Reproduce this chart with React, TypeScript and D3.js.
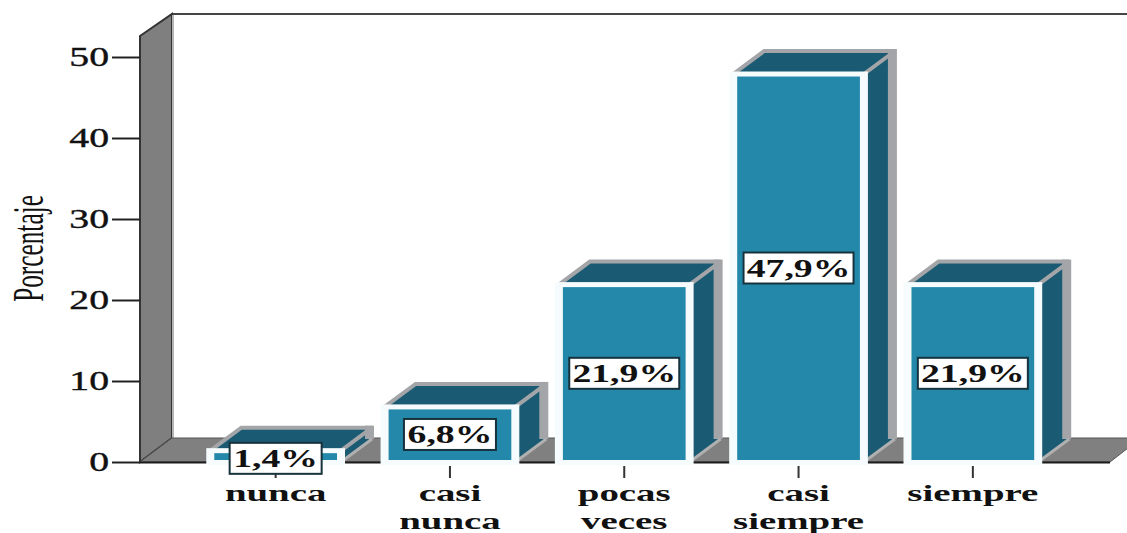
import React, { useEffect, useRef } from 'react';
import * as d3 from 'd3';

const categories = ['nunca', 'casi nunca', 'pocas veces', 'casi siempre', 'siempre'];
const categoryLines = [['nunca'], ['casi', 'nunca'], ['pocas', 'veces'], ['casi', 'siempre'], ['siempre']];
const values = [1.4, 6.8, 21.9, 47.9, 21.9];
const valueLabels = ['1,4%', '6,8%', '21,9%', '47,9%', '21,9%'];
const yTicks = [0, 10, 20, 30, 40, 50];

const w = 1127;
const h = 533;
const depthX = 31;
const depthY = 23;
const stretch = 1.42;
const serif = '"Liberation Serif", serif';

export default function App() {
  const svgRef = useRef<any>();

  useEffect(() => {
    const svg = d3.select(svgRef.current);
    svg.selectAll('*').remove();

    const yScale = d3.scaleLinear().domain([0, 50]).range([462, 57]);
    const xScale = d3
      .scaleBand<string>()
      .domain(categories)
      .range([188.5, 1060])
      .paddingInner(0.25)
      .paddingOuter(0.125);
    const base = yScale(0);
    const poly = (pts: number[][]) => pts.map((p) => p.join(',')).join(' ');

    // walls
    const wallLeft = 140;
    const wallRight = wallLeft + depthX + 1;
    svg
      .append('line')
      .attr('x1', wallRight)
      .attr('x2', w)
      .attr('y1', 14)
      .attr('y2', 14)
      .attr('stroke', '#444')
      .attr('stroke-width', 2);
    svg
      .append('polygon')
      .attr('points', poly([[wallLeft, 36], [wallRight, 14], [wallRight, base - depthY - 1], [wallLeft, base]]))
      .attr('fill', '#7f7f7f')
      .attr('stroke', '#333')
      .attr('stroke-width', 2);
    svg
      .append('line')
      .attr('x1', wallRight + 1)
      .attr('x2', wallRight + 1)
      .attr('y1', 15)
      .attr('y2', base - depthY)
      .attr('stroke', '#b5b5b5')
      .attr('stroke-width', 2);
    svg
      .append('polygon')
      .attr('points', poly([[wallLeft, base], [wallRight, base - depthY - 1], [1141, base - depthY - 1], [1110, base]]))
      .attr('fill', '#808080')
      .attr('stroke', '#555')
      .attr('stroke-width', 1);
    svg
      .append('line')
      .attr('x1', wallLeft)
      .attr('x2', 1110)
      .attr('y1', base + 0.5)
      .attr('y2', base + 0.5)
      .attr('stroke', '#1c1c1c')
      .attr('stroke-width', 2);

    // y axis
    const yAxis = svg
      .append('g')
      .attr('transform', `translate(${wallLeft},0)`)
      .call(d3.axisLeft(yScale).tickValues(yTicks).tickSize(28).tickFormat((d: any) => String(d)));
    yAxis.select('.domain').remove();
    yAxis.selectAll('line').attr('stroke', '#222').attr('stroke-width', 2);
    yAxis
      .selectAll('text')
      .attr('text-anchor', 'end')
      .attr('font-family', serif)
      .attr('font-size', 28)
      .attr('stroke', '#111')
      .attr('stroke-width', 0.4)
      .attr('fill', '#111')
      .attr('x', 0)
      .attr('dy', '0.32em')
      .attr('transform', `translate(-31,0) scale(${stretch},1)`);

    // y title, squeezed like the original
    svg
      .append('text')
      .attr('transform', 'translate(43,248.5) rotate(-90) scale(0.575,1)')
      .attr('text-anchor', 'middle')
      .attr('font-family', serif)
      .attr('font-size', 44)
      .attr('fill', '#111')
      .text('Porcentaje');

    // x axis ticks
    const xAxis = svg
      .append('g')
      .attr('transform', `translate(0,${base + 4})`)
      .call(d3.axisBottom(xScale).tickSize(12).tickFormat(() => ''));
    xAxis.select('.domain').remove();
    xAxis.selectAll('line').attr('stroke', '#333').attr('stroke-width', 2);

    // category labels, one text per category with a tspan per line
    categories.forEach((cat, i) => {
      const cx = xScale(cat)! + xScale.bandwidth() / 2;
      const label = svg
        .append('text')
        .attr('transform', `translate(${cx},501) scale(1.62,1)`)
        .attr('text-anchor', 'middle')
        .attr('font-family', serif)
        .attr('font-weight', 'bold')
        .attr('font-size', 24)
        .attr('fill', '#111');
      categoryLines[i].forEach((line, j) => {
        label.append('tspan').attr('x', 0).attr('y', j * 27.6).text(line);
      });
    });

    // bars
    const bars = svg.selectAll('g.bar').data(values).join('g').attr('class', 'bar');
    bars.each(function (d, i) {
      const g = d3.select(this);
      const x0 = xScale(categories[i])!;
      const x1 = x0 + xScale.bandwidth();
      const top = yScale(d);
      const dk = '#1a5b73';
      const edge = '#a3a5a8';

      g.append('polygon')
        .attr('points', poly([[x1, top], [x1 + depthX, top - depthY], [x1 + depthX, base - depthY], [x1, base]]))
        .attr('fill', dk);
      g.append('polygon')
        .attr('points', poly([[x0, top], [x0 + depthX, top - depthY], [x1 + depthX, top - depthY], [x1, top]]))
        .attr('fill', dk);
      g.append('polyline')
        .attr('points', poly([[x0, top], [x0 + depthX, top - depthY], [x1 + depthX, top - depthY]]))
        .attr('fill', 'none')
        .attr('stroke', edge)
        .attr('stroke-width', 4);
      // right edge of the side is a wider band
      g.append('rect')
        .attr('x', x1 + depthX - 7)
        .attr('y', top - depthY - 2)
        .attr('width', 9)
        .attr('height', base - top + 2)
        .attr('fill', edge);
      g.append('line')
        .attr('x1', x1)
        .attr('y1', top)
        .attr('x2', x1 + depthX)
        .attr('y2', top - depthY)
        .attr('stroke', edge)
        .attr('stroke-width', 4);
      g.append('line')
        .attr('x1', x1)
        .attr('y1', base)
        .attr('x2', x1 + depthX)
        .attr('y2', base - depthY)
        .attr('stroke', '#b0b0b0')
        .attr('stroke-width', 3);

      // white frame + face
      g.append('rect')
        .attr('x', x0 - 4)
        .attr('y', top - 2.5)
        .attr('width', x1 - x0 + 8)
        .attr('height', base - top + 5.5)
        .attr('fill', '#f6fcfd');
      g.append('rect')
        .attr('x', x0 + 4)
        .attr('y', top + 2.5)
        .attr('width', x1 - x0 - 8)
        .attr('height', Math.max(base - top - 4.5, 0))
        .attr('fill', '#2488aa');
    });

    // value labels on top of the bars
    values.forEach((d, i) => {
      const cx = xScale(categories[i])! + xScale.bandwidth() / 2;
      const cy = i === 0 ? yScale(d / 2) + 2 : yScale(d / 2);
      const label = svg.append('g').attr('transform', `translate(${cx},${cy})`);
      const boxW = valueLabels[i].length === 4 ? 92 : 110;
      label
        .append('rect')
        .attr('x', -boxW / 2)
        .attr('y', -15.5)
        .attr('width', boxW)
        .attr('height', 31)
        .attr('fill', '#fff')
        .attr('stroke', '#16323c')
        .attr('stroke-width', 2);
      label
        .append('text')
        .attr('transform', `scale(1.45,1)`)
        .attr('text-anchor', 'middle')
        .attr('dy', 9)
        .attr('font-family', serif)
        .attr('font-weight', 'bold')
        .attr('font-size', 26)
        .attr('fill', '#111')
        .text(valueLabels[i]);
    });
  }, []);

  return (
    <svg
      ref={svgRef}
      width={w}
      height={h}
      style={{ position: 'absolute', left: 0, top: 0, background: '#fff' }}
    ></svg>
  );
}
